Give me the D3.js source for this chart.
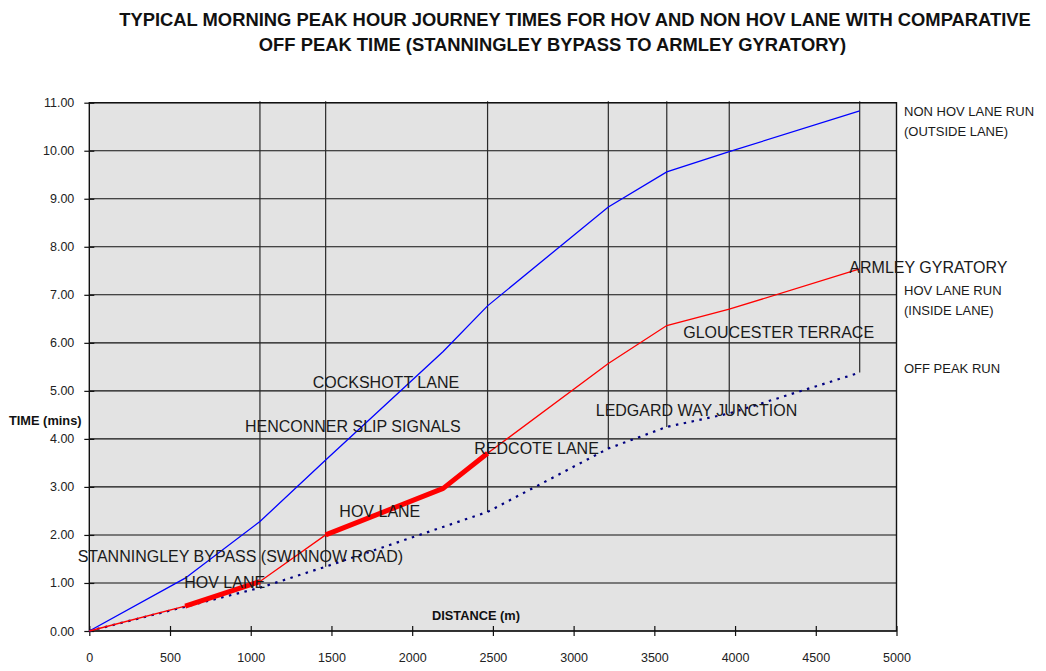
<!DOCTYPE html>
<html>
<head>
<meta charset="utf-8">
<script src="https://cdn.jsdelivr.net/npm/d3@7/dist/d3.min.js"></script>
<style>
  html, body { margin: 0; padding: 0; background: #fff; }
  svg { display: block; font-family: Arial, "Liberation Sans", sans-serif; }
</style>
</head>
<body>
<svg id="chart" width="1046" height="671"></svg>
<script>
// ---- data ----
const titleLines = [
  "TYPICAL MORNING PEAK HOUR JOURNEY TIMES FOR HOV AND NON HOV LANE WITH COMPARATIVE",
  "OFF PEAK TIME (STANNINGLEY BYPASS TO ARMLEY GYRATORY)"
];
const distances = [0, 594, 1057, 1464, 2192, 2467, 3215, 3577, 3964, 4772];
const nonHovTimes = [0, 1.10, 2.28, 3.56, 5.82, 6.77, 8.83, 9.56, 9.98, 10.83];
const hovTimes = [0, 0.52, 1.03, 2.00, 2.97, 3.70, 5.57, 6.36, 6.70, 7.54];
const offPeakDistances = [0, 1057, 1464, 2467, 3215, 3577, 3964, 4772];
const offPeakTimes = [0, 0.90, 1.34, 2.48, 3.80, 4.25, 4.53, 5.38];
const hovLaneSections = [[594, 1057], [1464, 2467]];
const xTicks = [0, 500, 1000, 1500, 2000, 2500, 3000, 3500, 4000, 4500, 5000];
const yTicks = [0, 1, 2, 3, 4, 5, 6, 7, 8, 9, 10, 11];
const placeNames = ["STANNINGLEY BYPASS (SWINNOW ROAD)", "HOV LANE", "HOV LANE", "HENCONNER SLIP SIGNALS",
  "COCKSHOTT LANE", "REDCOTE LANE", "LEDGARD WAY JUNCTION", "GLOUCESTER TERRACE", "ARMLEY GYRATORY"];
const placeDistances = [-72, 588, 1549, 964, 1384, 2385, 3137, 3679, 4708];
const placeTimes = [1.43, 0.89, 2.38, 4.15, 5.07, 3.69, 4.48, 6.10, 7.45];
const seriesLabels = [["NON HOV LANE RUN", "(OUTSIDE LANE)"], ["HOV LANE RUN", "(INSIDE LANE)"], ["OFF PEAK RUN"]];
const seriesLabelTimes = [10.72, 6.99, 5.37];

// ---- layout ----
const svg = d3.select("#chart");
const plot = { left: 89.3, right: 896.5, top: 102.7, bottom: 631 };
const x = d3.scaleLinear().domain([0, 5000]).range([plot.left, plot.right]);
const y = d3.scaleLinear().domain([0, 11]).range([plot.bottom, plot.top]);

// plot background
svg.append("rect").attr("x", plot.left).attr("y", plot.top)
  .attr("width", plot.right - plot.left).attr("height", plot.bottom - plot.top)
  .attr("fill", "#e3e3e3");

// horizontal gridlines
svg.append("g").selectAll("line").data(yTicks).join("line")
  .attr("x1", plot.left).attr("x2", plot.right)
  .attr("y1", d => y(d)).attr("y2", d => y(d))
  .attr("stroke", "#111").attr("stroke-width", 1.1);

// drop lines at junctions (from top of chart down to off-peak run)
const drops = offPeakDistances.map((d, i) => [d, offPeakTimes[i]]).filter(d => d[0] > 0);
svg.append("g").selectAll("line").data(drops).join("line")
  .attr("x1", d => x(d[0])).attr("x2", d => x(d[0]))
  .attr("y1", y(11) - 1.5).attr("y2", d => y(d[1]))
  .attr("stroke", "#2a2a2a").attr("stroke-width", 1.2);

// plot border
svg.append("rect").attr("x", plot.left).attr("y", plot.top)
  .attr("width", plot.right - plot.left).attr("height", plot.bottom - plot.top)
  .attr("fill", "none").attr("stroke", "#111").attr("stroke-width", 1.4);

// axes
const xAxis = d3.axisBottom(x).tickValues(xTicks).tickFormat(d3.format("d")).tickSizeInner(5).tickSizeOuter(0).tickPadding(17);
const gx = svg.append("g").attr("transform", `translate(0,${plot.bottom})`).call(xAxis);
gx.select(".domain").remove();
gx.selectAll(".tick line").attr("y1", -5).attr("y2", 5).attr("stroke", "#111").attr("stroke-width", 1.2);
gx.selectAll(".tick text").attr("font-size", "12.5px").attr("fill", "#222").attr("font-family", "Arial, 'Liberation Sans', sans-serif");

const yAxis = d3.axisLeft(y).tickValues(yTicks).tickFormat(d3.format(".2f")).tickSizeInner(5).tickSizeOuter(0).tickPadding(10);
const gy = svg.append("g").attr("transform", `translate(${plot.left},0)`).call(yAxis);
gy.select(".domain").remove();
gy.selectAll(".tick line").attr("x1", -5).attr("x2", 5).attr("stroke", "#111").attr("stroke-width", 1.2);
gy.selectAll(".tick text").attr("font-size", "12.5px").attr("fill", "#222").attr("font-family", "Arial, 'Liberation Sans', sans-serif");

// lines
const line = d3.line().x(d => x(d[0])).y(d => y(d[1]));
const nonHov = distances.map((d, i) => [d, nonHovTimes[i]]);
const hov = distances.map((d, i) => [d, hovTimes[i]]);
const offPeak = offPeakDistances.map((d, i) => [d, offPeakTimes[i]]);

svg.append("path").datum(offPeak).attr("d", line).attr("fill", "none")
  .attr("stroke", "#000080").attr("stroke-width", 2.2).attr("stroke-dasharray", "2.5,5.5");
svg.append("path").datum(nonHov).attr("d", line).attr("fill", "none")
  .attr("stroke", "#0000ff").attr("stroke-width", 1.3);
svg.append("path").datum(hov).attr("d", line).attr("fill", "none")
  .attr("stroke", "#ff0000").attr("stroke-width", 1.3);
hovLaneSections.forEach(([a, b]) => {
  svg.append("path").datum(hov.filter(p => p[0] >= a && p[0] <= b)).attr("d", line)
    .attr("fill", "none").attr("stroke", "#ff0000").attr("stroke-width", 5)
    .attr("stroke-linejoin", "round");
});

// place labels
svg.append("g").selectAll("text").data(placeNames).join("text")
  .attr("x", (d, i) => x(placeDistances[i])).attr("y", (d, i) => y(placeTimes[i]))
  .attr("font-size", "16px").attr("fill", "#1a1a1a").text(d => d);

// series labels on the right
seriesLabels.forEach((lines, i) => {
  lines.forEach((t, j) => {
    svg.append("text").attr("x", plot.right + 7.5).attr("y", y(seriesLabelTimes[i]) + j * 20)
      .attr("font-size", "13px").attr("fill", "#1a1a1a").text(t);
  });
});

// axis titles
svg.append("text").attr("x", 9).attr("y", 425).attr("font-size", "12.8px").attr("font-weight", "bold")
  .attr("fill", "#111").text("TIME (mins)");
svg.append("text").attr("x", 432).attr("y", 620).attr("font-size", "12.8px").attr("font-weight", "bold")
  .attr("fill", "#111").text("DISTANCE (m)");

// title
const t1 = svg.append("text").attr("x", 575).attr("y", 26).attr("text-anchor", "middle")
  .attr("font-size", "15px").attr("font-weight", "bold").attr("fill", "#111").text(titleLines[0]);
const w = t1.node().getComputedTextLength();
const fs = 15 * 912 / w;
t1.attr("font-size", fs + "px");
svg.append("text").attr("x", 552.5).attr("y", 51).attr("text-anchor", "middle")
  .attr("font-size", fs + "px").attr("font-weight", "bold").attr("fill", "#111").text(titleLines[1]);
</script>
</body>
</html>
